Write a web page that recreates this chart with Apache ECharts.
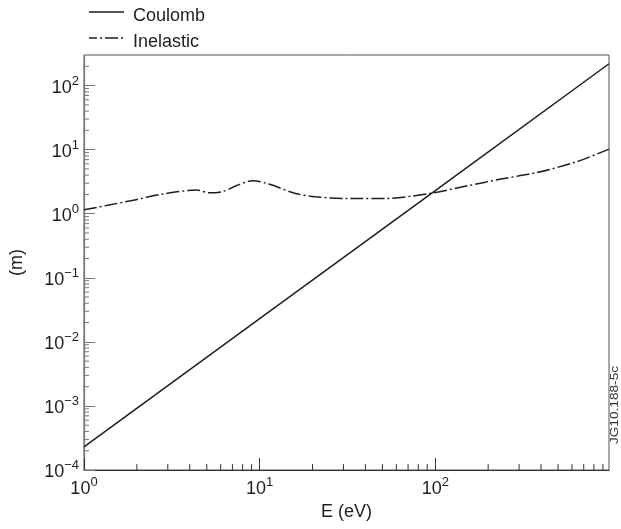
<!DOCTYPE html>
<html>
<head>
<meta charset="utf-8">
<script src="https://cdn.jsdelivr.net/npm/echarts@6/dist/echarts.min.js"></script>
<style>html,body{margin:0;padding:0;background:#fff}#c{width:621px;height:529px}</style>
</head>
<body>
<div id="c"></div>
<script>
// Data
const coulombE = [1, 10, 100, 975];
const coulombR = [2.3e-4, 2.3e-2, 2.3, 219];
const inelasticE = [1, 1.84, 2.83, 4.37, 5.2, 6.18, 7.35, 9.13, 11.3, 16, 20.8, 30.7, 38, 52, 93, 153, 236, 380, 640, 975];
const inelasticR = [1.15, 1.59, 2.03, 2.34, 2.12, 2.22, 2.73, 3.27, 2.9, 2.07, 1.84, 1.73, 1.73, 1.73, 2.07, 2.73, 3.47, 4.4, 6.5, 10.2];
const seriesNames = ['Coulomb', 'Inelastic'];
const xMin = 1, xMax = 975, yMin = 1e-4, yMax = 300;
const xTitle = 'E (eV)', yTitle = '(m)', stamp = 'JG10.188-5c';

const FONT = 'Liberation Sans, Arial, Helvetica, sans-serif';
const INK = '#1e1e1e';
const DASHDOT = [13, 3, 2, 3];

function powLabel(v) {
  const e = Math.log10(v);
  const r = Math.round(e);
  if (Math.abs(e - r) > 1e-6) return '';
  const exp = r < 0 ? '\u2212' + (-r) : String(r);
  return '{b|10}{s|' + exp + '}';
}
const rich = {
  b: { fontSize: 18, fontFamily: FONT, color: INK, verticalAlign: 'bottom', lineHeight: 22 },
  s: { fontSize: 13, fontFamily: FONT, color: INK, verticalAlign: 'top', lineHeight: 22, padding: [0, 0, 9, 0] }
};

const chart = echarts.init(document.getElementById('c'));
const gridL = 80, gridT = 55, gridR = 12, gridB = 59;
chart.setOption({
  animation: false,
  backgroundColor: '#fff',
  grid: { left: gridL, top: gridT, right: gridR, bottom: gridB, show: true, borderColor: '#555', borderWidth: 1, backgroundColor: 'transparent' },
  xAxis: {
    type: 'log', logBase: 10, min: xMin, max: xMax,
    name: xTitle, nameLocation: 'middle', nameGap: 30,
    nameTextStyle: { fontSize: 18, fontFamily: FONT, color: INK },
    axisLine: { lineStyle: { color: '#333', width: 1.2 } },
    axisTick: { inside: true, length: 12, lineStyle: { color: '#333' } },
    axisLabel: { formatter: powLabel, rich: rich, margin: 6, showMaxLabel: false },
    splitLine: { show: false }
  },
  yAxis: {
    type: 'log', logBase: 10, min: yMin, max: yMax,
    name: yTitle, nameLocation: 'middle', nameGap: 58,
    nameTextStyle: { fontSize: 18, fontFamily: FONT, color: INK },
    axisLine: { lineStyle: { color: '#777', width: 1.2 } },
    axisTick: { inside: true, length: 11, lineStyle: { color: '#777' } },
    axisLabel: { formatter: powLabel, rich: rich, margin: 5, showMaxLabel: false },
    splitLine: { show: false }
  },
  series: [
    {
      name: seriesNames[0], type: 'line', symbol: 'none', showSymbol: false,
      lineStyle: { color: INK, width: 1.5, type: 'solid' },
      data: coulombE.map((e, i) => [e, coulombR[i]])
    },
    {
      name: seriesNames[1], type: 'line', symbol: 'none', showSymbol: false, smooth: 0.3,
      lineStyle: { color: INK, width: 1.5, type: DASHDOT },
      data: inelasticE.map((e, i) => [e, inelasticR[i]])
    }
  ]
});

// minor ticks via the axes' own scales
const g = [];
const x0 = chart.convertToPixel({ xAxisIndex: 0 }, xMin);
const yb = chart.convertToPixel({ yAxisIndex: 0 }, yMin);
for (let d = 0; d <= 2; d++) {
  for (let k = 2; k <= 9; k++) {
    const v = k * Math.pow(10, d);
    if (v >= xMax) continue;
    const px = chart.convertToPixel({ xAxisIndex: 0 }, v);
    g.push({ type: 'line', shape: { x1: px, y1: yb, x2: px, y2: yb - 6 }, style: { stroke: '#333', lineWidth: 1 }, silent: true });
  }
}
for (let d = -4; d <= 2; d++) {
  for (let k = 2; k <= 9; k++) {
    const v = k * Math.pow(10, d);
    if (v >= yMax) continue;
    const py = chart.convertToPixel({ yAxisIndex: 0 }, v);
    g.push({ type: 'line', shape: { x1: x0, y1: py, x2: x0 + 5, y2: py }, style: { stroke: '#777', lineWidth: 1 }, silent: true });
  }
}
// legend
const legendY = [12, 38];
const legendDash = [null, DASHDOT];
seriesNames.forEach((n, i) => {
  g.push({ type: 'line', shape: { x1: 89, y1: legendY[i], x2: 124, y2: legendY[i] },
    style: { stroke: INK, lineWidth: 1.5, lineDash: legendDash[i] || null, lineDashOffset: 5 }, silent: true });
  g.push({ type: 'text', x: 133, y: legendY[i] + 4, silent: true,
    style: { text: n, fontSize: 18, fontFamily: FONT, fill: INK, align: 'left', verticalAlign: 'middle' } });
});
g.push({
  type: 'text', x: 615.5, y: 405, rotation: Math.PI / 2, scaleX: 1.3, silent: true,
  style: { text: stamp, fontSize: 10.5, fontFamily: FONT, fill: '#333', align: 'center', verticalAlign: 'middle' }
});
chart.setOption({ graphic: g });
</script>
</body>
</html>
